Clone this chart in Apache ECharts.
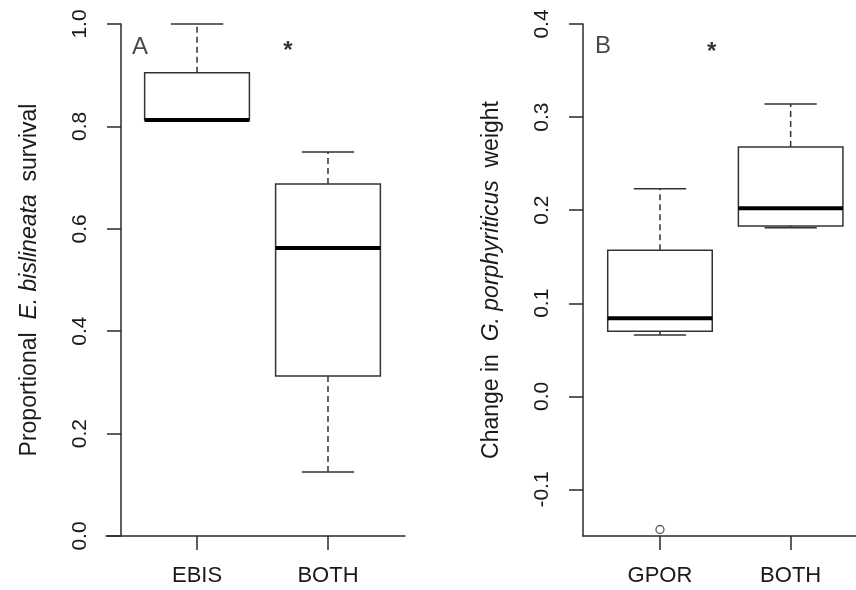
<!DOCTYPE html>
<html><head><meta charset="utf-8">
<script src="https://cdn.jsdelivr.net/npm/echarts@6/dist/echarts.min.js"></script>
<style>html,body{margin:0;padding:0;background:#fff}#c{width:856px;height:590px}</style>
</head><body><div id="c"></div>
<script>
// ---- data ----
const categoriesA = ['EBIS', 'BOTH'];
// [min, q1, median, q3, max]
const statsA = [
  [0.8125, 0.8125, 0.8125, 0.905, 1.0],
  [0.125, 0.3125, 0.5625, 0.6875, 0.75]
];
const outliersA = [];
const categoriesB = ['GPOR', 'BOTH'];
const statsB = [
  [0.066, 0.070, 0.084, 0.157, 0.223],
  [0.181, 0.183, 0.202, 0.268, 0.314]
];
const outliersB = [[1, -0.143]];
const yTicksA = [0, 0.2, 0.4, 0.6, 0.8, 1.0];
const yTicksB = [-0.1, 0, 0.1, 0.2, 0.3, 0.4];
const annotationsA = [[0.565, 0.955, 'A'], [1.694, 0.946, '*']];
const annotationsB = [[0.564, 0.3755, 'B'], [1.396, 0.369, '*']];
const xTicks = [1, 2];

// ---- chart ----
const FONT = '"Liberation Sans", Arial, sans-serif';
const TXT = '#1a1a1a';
const LINE = '#2a2a2a';

function renderBox(params, api) {
  const x = api.value(0);
  const lo = api.value(1), q1 = api.value(2), md = api.value(3), q3 = api.value(4), hi = api.value(5);
  const bw = api.size([0.8, 0])[0];
  const cw = bw / 2;
  const pLo = api.coord([x, lo]), pQ1 = api.coord([x, q1]), pMd = api.coord([x, md]);
  const pQ3 = api.coord([x, q3]), pHi = api.coord([x, hi]);
  const cx = pMd[0];
  const st = {stroke: '#333', lineWidth: 1.5, fill: null};
  const dash = {stroke: '#333', lineWidth: 1.5, lineDash: [6, 4], fill: null};
  return {
    type: 'group',
    children: [
      {type: 'line', shape: {x1: cx, y1: pQ3[1], x2: cx, y2: pHi[1]}, style: dash},
      {type: 'line', shape: {x1: cx, y1: pQ1[1], x2: cx, y2: pLo[1]}, style: dash},
      {type: 'line', shape: {x1: cx - cw / 2, y1: pHi[1], x2: cx + cw / 2, y2: pHi[1]}, style: st},
      {type: 'line', shape: {x1: cx - cw / 2, y1: pLo[1], x2: cx + cw / 2, y2: pLo[1]}, style: st},
      {type: 'rect', shape: {x: cx - bw / 2, y: pQ3[1], width: bw, height: pQ1[1] - pQ3[1]},
        style: {stroke: '#333', lineWidth: 1.5, fill: '#fff'}},
      {type: 'line', shape: {x1: cx - bw / 2, y1: pMd[1], x2: cx + bw / 2, y2: pMd[1]},
        style: {stroke: '#000', lineWidth: 4}}
    ]
  };
}

function xAxisCfg(gi, cats, min, max) {
  return {
    gridIndex: gi, type: 'value', min: min, max: max,
    axisLine: {show: true, onZero: false, lineStyle: {color: LINE, width: 1.5}},
    axisTick: {show: true, customValues: xTicks, length: 14, lineStyle: {color: LINE, width: 1.5}},
    axisLabel: {customValues: xTicks, formatter: v => cats[Math.round(v) - 1] || '',
      fontSize: 22, color: TXT, fontFamily: FONT, margin: 29},
    splitLine: {show: false}
  };
}
function yAxisCfg(gi, ticks, min, max, offset, name) {
  return {
    gridIndex: gi, type: 'value', min: min, max: max, offset: offset,
    axisLine: {show: true, onZero: false, lineStyle: {color: LINE, width: 1.5}},
    axisTick: {show: true, customValues: ticks, length: 14, lineStyle: {color: LINE, width: 1.5}},
    axisLabel: {customValues: ticks, rotate: 90, formatter: v => v.toFixed(1),
      fontSize: 21, color: TXT, fontFamily: FONT, margin: 30},
    splitLine: {show: false},
    name: name, nameLocation: 'middle', nameRotate: 90, nameGap: 80,
    nameTextStyle: {fontSize: 23, color: TXT, fontFamily: FONT,
      rich: {n: {fontSize: 23, color: TXT, fontFamily: FONT},
             i: {fontSize: 23, color: TXT, fontFamily: FONT, fontStyle: 'italic'}}}
  };
}
function annot(xi, yi, data) {
  return {
    type: 'scatter', xAxisIndex: xi, yAxisIndex: yi, symbolSize: 0, data: data,
    silent: true,
    label: {show: true, position: 'inside',
      formatter: p => p.data[2] === '*' ? '{s|*}' : '{t|' + p.data[2] + '}',
      rich: {
        t: {fontSize: 24, color: TXT, fontFamily: FONT},
        s: {fontSize: 24, color: '#000', fontFamily: FONT, fontWeight: 'bold'}
      }}
  };
}

const chart = echarts.init(document.getElementById('c'), null, {renderer: 'canvas'});
chart.setOption({
  animation: false,
  backgroundColor: '#fff',
  grid: [
    {left: 106, top: 24, width: 299, height: 512},
    {left: 583, top: 24, right: 0, height: 512}
  ],
  xAxis: [
    xAxisCfg(0, categoriesA, 0.305, 2.588),
    xAxisCfg(1, categoriesB, 0.411, 2.5)
  ],
  yAxis: [
    yAxisCfg(0, yTicksA, 0, 1, -15, '{n|Proportional  }{i|E. bislineata}{n|  survival}'),
    yAxisCfg(1, yTicksB, -0.15, 0.4, 0, '{n|Change in  }{i|G. porphyriticus}{n|  weight}')
  ],
  series: [
    {type: 'custom', xAxisIndex: 0, yAxisIndex: 0, renderItem: renderBox,
      encode: {x: 0, y: [1, 2, 3, 4, 5]}, data: statsA.map((s, i) => [i + 1].concat(s))},
    {type: 'custom', xAxisIndex: 1, yAxisIndex: 1, renderItem: renderBox,
      encode: {x: 0, y: [1, 2, 3, 4, 5]}, data: statsB.map((s, i) => [i + 1].concat(s))},
    {type: 'scatter', xAxisIndex: 0, yAxisIndex: 0, data: outliersA, symbol: 'circle', symbolSize: 8,
      itemStyle: {color: '#fff', borderColor: '#333', borderWidth: 1.3}},
    {type: 'scatter', xAxisIndex: 1, yAxisIndex: 1, data: outliersB, symbol: 'circle', symbolSize: 8,
      itemStyle: {color: '#fff', borderColor: '#333', borderWidth: 1.3}},
    annot(0, 0, annotationsA),
    annot(1, 1, annotationsB)
  ]
});
</script>
</body></html>
